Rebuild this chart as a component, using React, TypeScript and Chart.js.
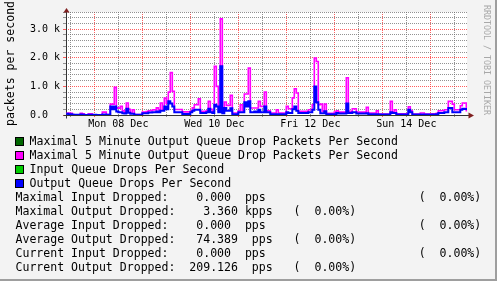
import { useEffect, useRef } from 'react';
import { Chart, registerables } from 'chart.js';

Chart.register(...registerables);

// ---- Data (hourly samples, first sample at hour -14 relative to Mon 08 Dec 00:00) ----
const START_HOUR = -14;
const X_MIN = -14.15;
const X_MAX = 186.35;

// Maximal 5 Minute Output Queue Drop Packets Per Second (magenta)
const maxOutputDrops = [
  60, 70, 60, 20, 10, 10, 10, 60, 40, 5, 5, 40, 40, 10,
  10, 5, 5, 5, 100, 100, 10, 20, 380, 380, 965, 250, 240, 300, 150, 100, 420, 200, 60, 186, 20, 20, 20, 20,
  100, 100, 120, 150, 150, 180, 180, 250, 180, 420, 200, 590, 400, 800, 1480, 830, 190, 190, 190, 190, 110, 110, 110, 110,
  130, 250, 360, 360, 570, 130, 130, 130, 150, 477, 200, 130, 1700, 1000, 130, 3360, 100, 454, 337, 337, 686, 70, 70, 70,
  150, 360, 150, 733, 733, 1640, 244, 244, 244, 244, 477, 300, 300, 800, 150, 150, 70, 70, 70, 186, 70, 70, 70, 70,
  300, 220, 220, 600, 920, 770, 130, 130, 130, 130, 130, 186, 186, 360, 1990, 1870, 360, 380, 130, 380, 60, 60, 60, 60,
  100, 150, 100, 100, 100, 100, 1300, 130, 130, 220, 220, 100, 100, 100, 100, 100, 267, 70, 70, 70, 70, 150, 30, 30,
  30, 30, 30, 30, 477, 100, 186, 40, 40, 40, 40, 40, 40, 290, 150, 30, 30, 30, 30, 70, 70, 30, 30, 30,
  30, 40, 40, 60, 150, 150, 150, 186, 186, 477, 477, 380, 186, 186, 186, 325, 420, 420, 150,
];

// Output Queue Drops Per Second (blue)
const outputDrops = [
  40, 30, 30, 10, 5, 5, 5, 20, 10, 0, 0, 10, 10, 5,
  5, 0, 0, 0, 20, 20, 5, 10, 300, 200, 300, 120, 100, 100, 60, 50, 220, 80, 40, 40, 10, 10, 10, 10,
  60, 60, 60, 90, 90, 100, 100, 120, 100, 150, 150, 300, 200, 480, 400, 300, 100, 100, 100, 100, 35, 35, 35, 35,
  100, 150, 186, 186, 186, 70, 70, 70, 100, 220, 100, 70, 360, 300, 100, 1700, 60, 244, 150, 150, 240, 30, 30, 30,
  100, 100, 100, 450, 300, 477, 100, 100, 120, 100, 186, 100, 100, 300, 100, 100, 30, 30, 30, 30, 30, 30, 30, 30,
  100, 70, 70, 200, 300, 150, 70, 70, 70, 70, 70, 100, 100, 186, 1000, 450, 186, 60, 60, 130, 30, 30, 30, 30,
  30, 70, 50, 50, 50, 50, 400, 70, 70, 100, 100, 50, 50, 50, 50, 50, 60, 30, 30, 30, 30, 30, 20, 20,
  20, 20, 20, 20, 100, 70, 70, 20, 20, 20, 20, 20, 20, 186, 100, 20, 20, 20, 20, 20, 20, 20, 20, 20,
  20, 20, 20, 30, 70, 70, 70, 100, 100, 244, 244, 100, 100, 100, 100, 186, 220, 209, 209,
];

// ---- Axes ----
const xGridHours = [-12, 0, 12, 24, 36, 48, 60, 72, 84, 96, 108, 120, 132, 144, 156, 168, 180];
const xLabelHours = [12, 60, 108, 156];
const xLabels = ['Mon 08 Dec', 'Wed 10 Dec', 'Fri 12 Dec', 'Sun 14 Dec'];
const yGridValues = [0, 200, 400, 600, 800, 1000, 1200, 1400, 1600, 1800, 2000, 2200, 2400, 2600, 2800, 3000, 3200, 3400, 3600];
const yLabelValues = [0, 1000, 2000, 3000];
const yLabels = ['0.0  ', '1.0 k', '2.0 k', '3.0 k'];
const yTitle = 'packets per second';

// ---- Legend ----
const legendLabels = [
  'Maximal 5 Minute Output Queue Drop Packets Per Second',
  'Maximal 5 Minute Output Queue Drop Packets Per Second',
  'Input Queue Drops Per Second',
  'Output Queue Drops Per Second',
];
const legendColors = ['#006600', '#ff00ff', '#00cc00', '#0000ff'];

// ---- Statistics ----
const statLabels = [
  'Maximal Input Dropped:',
  'Maximal Output Dropped:',
  'Average Input Dropped:',
  'Average Output Dropped:',
  'Current Input Dropped:',
  'Current Output Dropped:',
];
const statValues = ['0.000', '3.360', '0.000', '74.389', '0.000', '209.126'];
const statPrefixes = [' ', 'k', ' ', ' ', ' ', ' '];
const statPercents = ['0.00%', '0.00%', '0.00%', '0.00%', '0.00%', '0.00%'];
const statIsInput = [true, false, true, false, true, false];

const watermark = 'RRDTOOL / TOBI OETIKER';

const BG = '#f3f3f3';
const MONO = '"DejaVu Sans Mono", monospace';
const GRID_RED = 'rgba(255, 40, 40, 0.75)';
const GRID_GRAY = 'rgba(110, 110, 110, 0.75)';

function statLine(i: number): string {
  const left = statLabels[i] + statValues[i].padStart(9) + ' ' + statPrefixes[i] + 'pps';
  const col = statIsInput[i] ? 58 : 40;
  return left.padEnd(col) + '(' + statPercents[i].padStart(7) + ')';
}

const rrdPlugin = {
  id: 'rrdFrame',
  beforeDraw(chart: any) {
    const { ctx, chartArea: a, width, height } = chart;
    ctx.save();
    ctx.fillStyle = BG;
    ctx.fillRect(0, 0, width, height);
    ctx.fillStyle = '#ffffff';
    ctx.fillRect(a.left, a.top, a.right - a.left, a.bottom - a.top);
    ctx.restore();
  },
  beforeDatasetsDraw(chart: any) {
    const { ctx, chartArea: a } = chart;
    const x0 = Math.round(a.left) + 0.5;
    const y0 = Math.round(a.bottom) + 0.5;
    ctx.save();
    ctx.strokeStyle = '#333333';
    ctx.lineWidth = 1;
    ctx.beginPath();
    ctx.moveTo(x0, y0 + 3);
    ctx.lineTo(x0, a.top - 2);
    ctx.moveTo(x0 - 3, y0);
    ctx.lineTo(a.right + 3, y0);
    ctx.stroke();
    ctx.fillStyle = '#7f1f1f';
    ctx.beginPath();
    ctx.moveTo(x0 - 3, a.top + 0.5);
    ctx.lineTo(x0 + 3, a.top + 0.5);
    ctx.lineTo(x0, a.top - 4);
    ctx.closePath();
    ctx.fill();
    ctx.beginPath();
    ctx.moveTo(a.right + 1.5, y0 - 3);
    ctx.lineTo(a.right + 1.5, y0 + 3);
    ctx.lineTo(a.right + 7, y0);
    ctx.closePath();
    ctx.fill();
    ctx.restore();
  },
};

function toPoints(vals: number[]) {
  const pts = vals.map((v, i) => ({ x: START_HOUR + i, y: v }));
  pts.push({ x: X_MAX, y: vals[vals.length - 1] });
  return pts;
}

export default function App() {
  const ref = useRef<HTMLCanvasElement>(null);

  useEffect(() => {
    if (!ref.current) return;
    const chart = new Chart(ref.current, {
      type: 'line',
      data: {
        datasets: [
          {
            label: legendLabels[3],
            data: toPoints(outputDrops),
            borderColor: '#0000ff',
            borderWidth: 2,
            pointRadius: 0,
            stepped: true,
            fill: false,
          },
          {
            label: legendLabels[1],
            data: toPoints(maxOutputDrops),
            borderColor: '#ff00ff',
            borderWidth: 1.6,
            pointRadius: 0,
            stepped: true,
            fill: false,
          },
        ],
      },
      options: {
        responsive: false,
        animation: false,
        events: [],
        layout: { padding: { top: 12, left: 0, right: 30, bottom: 146 } },
        plugins: { legend: { display: false }, tooltip: { enabled: false } },
        scales: {
          x: {
            type: 'linear',
            min: X_MIN,
            max: X_MAX,
            afterBuildTicks: (scale: any) => {
              scale.ticks = xGridHours.map((v) => ({ value: v }));
            },
            afterFit: (scale: any) => {
              scale.height = 20;
            },
            grid: {
              color: (c: any) => (c.tick && c.tick.value % 24 === 0 ? GRID_RED : GRID_GRAY),
              lineWidth: 1,
              tickLength: 2,
            },
            border: { display: false, dash: [1, 1] },
            ticks: {
              autoSkip: false,
              maxRotation: 0,
              minRotation: 0,
              padding: 1.5,
              color: '#000000',
              font: { family: MONO, size: 10 },
              callback: (v: any) => {
                const idx = xLabelHours.indexOf(Number(v));
                return idx >= 0 ? xLabels[idx] : '';
              },
            },
          },
          y: {
            type: 'linear',
            min: 0,
            max: 3600,
            afterBuildTicks: (scale: any) => {
              scale.ticks = yGridValues.map((v) => ({ value: v }));
            },
            afterFit: (scale: any) => {
              scale.width = 66;
            },
            grid: {
              color: (c: any) => (c.tick && c.tick.value % 1000 === 0 ? GRID_RED : GRID_GRAY),
              lineWidth: 1,
              tickLength: 3,
            },
            border: { display: false, dash: [1, 1] },
            title: {
              display: true,
              text: yTitle,
              color: '#000000',
              font: { family: MONO, size: 11.55 },
              padding: { top: 4, bottom: 0 },
            },
            ticks: {
              autoSkip: false,
              padding: 3,
              color: '#000000',
              font: { family: MONO, size: 10 },
              callback: (v: any) => {
                const idx = yLabelValues.indexOf(Number(v));
                return idx >= 0 ? yLabels[idx] : '';
              },
            },
          },
        },
      },
      plugins: [rrdPlugin],
    } as any);
    return () => chart.destroy();
  }, []);

  const textStyle: any = {
    position: 'absolute',
    fontFamily: MONO,
    fontSize: '11.55px',
    lineHeight: '14px',
    whiteSpace: 'pre',
    color: '#000000',
  };

  return (
    <div
      style={{
        position: 'fixed',
        left: 0,
        top: 0,
        width: 497,
        height: 281,
        background: BG,
        overflow: 'hidden',
      }}
    >
      <canvas ref={ref} width={497} height={281} style={{ position: 'absolute', left: 0, top: 0 }} />
      {legendLabels.map((label, i) => (
        <div key={'lg' + i}>
          <div
            style={{
              position: 'absolute',
              left: 15,
              top: 137 + 14 * i,
              width: 9,
              height: 9,
              boxSizing: 'border-box',
              border: '1px solid #000',
              background: legendColors[i],
            }}
          />
          <div style={{ ...textStyle, left: 29.5, top: 134 + 14 * i }}>{label}</div>
        </div>
      ))}
      {statLabels.map((_, i) => (
        <div key={'st' + i} style={{ ...textStyle, left: 15.5, top: 134 + 14 * (4 + i) }}>
          {statLine(i)}
        </div>
      ))}
      <div
        style={{
          position: 'absolute',
          left: 482,
          top: 5,
          width: 10,
          writingMode: 'vertical-rl',
          fontFamily: MONO,
          fontSize: '8.3px',
          lineHeight: '10px',
          whiteSpace: 'pre',
          color: '#a8a8a8',
        }}
      >
        {watermark}
      </div>
      <div style={{ position: 'absolute', right: 0, top: 0, width: 2, height: 281, background: '#9e9e9e' }} />
      <div style={{ position: 'absolute', left: 0, bottom: 0, width: 497, height: 2, background: '#9e9e9e' }} />
    </div>
  );
}
